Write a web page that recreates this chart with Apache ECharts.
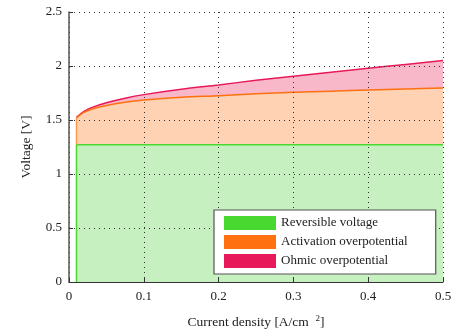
<!DOCTYPE html>
<html>
<head>
<meta charset="utf-8">
<script src="https://cdn.jsdelivr.net/npm/echarts@6/dist/echarts.min.js"></script>
<style>
  html, body { margin: 0; padding: 0; background: #fff; }
  #chart { width: 472px; height: 330px; }
</style>
</head>
<body>
<div id="chart"></div>
<script>
// Current density samples [A/cm^2]
const currentDensity = [0.01, 0.02, 0.03, 0.05, 0.075, 0.1, 0.15, 0.2, 0.25, 0.3, 0.35, 0.4, 0.45, 0.5];
// Reversible cell voltage [V]
const reversibleVoltage = 1.27;
// Activation overpotential [V]
const activationOverpotential = [0.25, 0.30, 0.33, 0.365, 0.395, 0.415, 0.44, 0.455, 0.472, 0.486, 0.497, 0.508, 0.517, 0.526];
// Ohmic overpotential [V]
const ohmicOverpotential = [0.005, 0.01, 0.015, 0.025, 0.037, 0.05, 0.075, 0.10, 0.125, 0.15, 0.176, 0.202, 0.228, 0.254];

const xTicks = [0, 0.1, 0.2, 0.3, 0.4, 0.5];
const yTicks = [0, 0.5, 1, 1.5, 2, 2.5];

const names = ['Reversible voltage', 'Activation overpotential', 'Ohmic overpotential'];

// cumulative curves
const revCurve = currentDensity.map(x => [x, reversibleVoltage]);
const actCurve = currentDensity.map((x, i) => [x, reversibleVoltage + activationOverpotential[i]]);
const ohmCurve = currentDensity.map((x, i) => [x, reversibleVoltage + activationOverpotential[i] + ohmicOverpotential[i]]);

const x0 = currentDensity[0];
const serif = 'Liberation Serif';

function areaSeries(name, data, line, fill, z) {
  return {
    name, type: 'line', data, smooth: 0.3, symbol: 'none', z,
    lineStyle: { color: line, width: 1.5 },
    itemStyle: { color: line },
    areaStyle: { color: fill, opacity: 1 }
  };
}
function edgeSeries(from, to, color, z) {
  return {
    type: 'line', data: [[x0, from], [x0, to]], symbol: 'none', z,
    lineStyle: { color, width: 1.5 }, silent: true, legendHoverLink: false
  };
}

const chart = echarts.init(document.getElementById('chart'), null, { renderer: 'canvas' });
chart.setOption({
  animation: false,
  backgroundColor: '#fff',
  grid: { left: 69, right: 29, top: 12, bottom: 48, outerBoundsMode: 'none', containLabel: false },
  xAxis: {
    type: 'value', min: 0, max: 0.5, interval: 0.1, z: 5,
    name: 'Current density [A/cm  {sup|2}]',
    nameLocation: 'middle', nameGap: 32,
    nameTextStyle: {
      fontFamily: serif, fontSize: 13.5, color: '#222',
      rich: { sup: { fontFamily: serif, fontSize: 9, color: '#222', verticalAlign: 'top', padding: [0, 0, 8, 0] } }
    },
    axisLine: { show: true, onZero: false, lineStyle: { color: '#333', width: 1 } },
    axisTick: { show: true, inside: true, length: 4, lineStyle: { color: '#333' } },
    axisLabel: { fontFamily: serif, fontSize: 13, color: '#222', margin: 8,
      formatter: v => xTicks.includes(+v.toFixed(2)) ? String(+v.toFixed(2)) : '' },
    splitLine: { show: true, lineStyle: { color: '#333', type: [1, 4], width: 1 } }
  },
  yAxis: {
    type: 'value', min: 0, max: 2.5, interval: 0.5, z: 5,
    name: 'Voltage [V]', nameLocation: 'middle', nameGap: 36,
    nameTextStyle: { fontFamily: serif, fontSize: 13.5, color: '#222' },
    axisLine: { show: true, onZero: false, lineStyle: { color: '#555', width: 1.5 } },
    axisTick: { show: true, inside: true, length: 4, lineStyle: { color: '#333' } },
    axisLabel: { fontFamily: serif, fontSize: 13, color: '#222', margin: 7,
      formatter: v => yTicks.includes(+v.toFixed(2)) ? String(+v.toFixed(2)) : '' },
    splitLine: { show: true, lineStyle: { color: '#333', type: [1, 4], width: 1 } }
  },
  legend: {
    data: names.map(n => ({ name: n, icon: 'rect' })),
    orient: 'vertical', left: 214, top: 210,
    itemWidth: 52, itemHeight: 14, itemGap: 5,
    padding: [6, 28, 6, 10],
    backgroundColor: '#fff', borderColor: '#555', borderWidth: 1.2,
    textStyle: { fontFamily: serif, fontSize: 13, color: '#222' },
    z: 10
  },
  series: [
    areaSeries(names[2], ohmCurve, '#e8195a', '#f8b8c9', 2),
    areaSeries(names[1], actCurve, '#ff7010', '#ffd2b4', 3),
    areaSeries(names[0], revCurve, '#48d830', '#c6f0c0', 4),
    edgeSeries(reversibleVoltage, actCurve[0][1], '#ff9a50', 4),
    edgeSeries(0, reversibleVoltage, '#48d830', 4)
  ]
});
</script>
</body>
</html>
